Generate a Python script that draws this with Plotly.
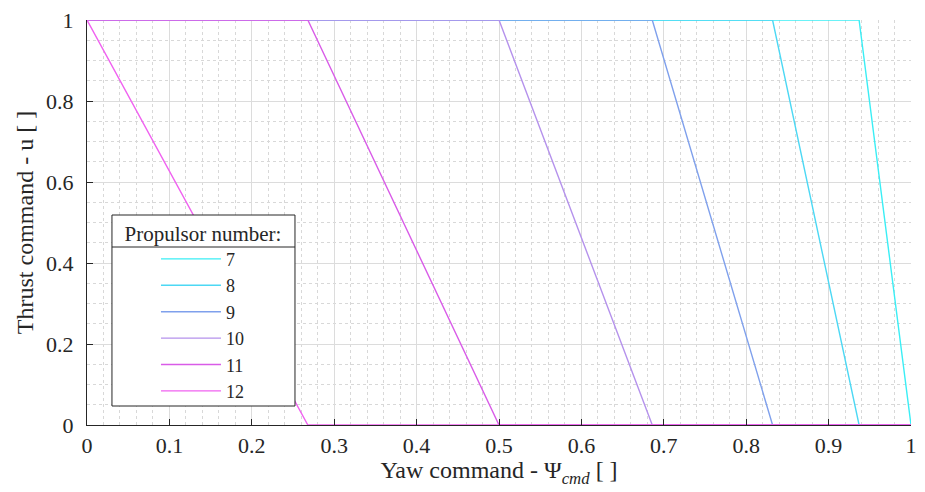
import plotly.graph_objects as go

# Data
propulsors = [7, 8, 9, 10, 11, 12]
drop_start = [0.937, 0.832, 0.686, 0.5, 0.268, 0.0]   # yaw command where thrust starts dropping
drop_end = [1.0, 0.937, 0.832, 0.686, 0.5, 0.268]     # yaw command where thrust reaches 0
u_high = 1.0
u_low = 0.0
x_ticks = [0, 0.1, 0.2, 0.3, 0.4, 0.5, 0.6, 0.7, 0.8, 0.9, 1]
y_ticks = [0, 0.2, 0.4, 0.6, 0.8, 1]
colors = ["#3aeef5", "#4cd8f4", "#7fa0ec", "#b592ec", "#d95ce8", "#f062f0"]

FONT = "Liberation Serif"
INK = "#262626"

fig = go.Figure()
for n, a, b, c in zip(propulsors, drop_start, drop_end, colors):
    fig.add_trace(go.Scatter(
        x=[0, a, b, 1], y=[u_high, u_high, u_low, u_low],
        mode="lines", name=str(n),
        line=dict(color=c, width=1.4),
        cliponaxis=False,
    ))

grid_major = "#dcdcdc"
grid_minor = "#d8d8d8"
axis_common = dict(
    showline=True, linecolor=INK, linewidth=1.2,
    ticks="inside", ticklen=6, tickwidth=1, tickcolor=INK,
    showgrid=True, gridcolor=grid_major, gridwidth=1,
    zeroline=False, mirror=False, automargin=False,
    ticklabeloverflow="allow",
    tickfont=dict(family=FONT, size=22, color=INK),
)

fig.update_xaxes(
    range=[0, 1], tickvals=x_ticks, ticktext=[f"{v:g}" for v in x_ticks],
    minor=dict(dtick=0.02, tick0=0, showgrid=True, gridcolor=grid_minor, griddash="dot", gridwidth=1),
    title=dict(text="Yaw command - Ψ<sub><i>cmd</i></sub> [ ]", font=dict(family=FONT, size=24, color=INK), standoff=2),
    ticklabelstandoff=0,
    **axis_common,
)
fig.update_yaxes(
    range=[0, 1], tickvals=y_ticks, ticktext=[f"{v:g}" for v in y_ticks],
    minor=dict(dtick=0.05, tick0=0, showgrid=True, gridcolor=grid_minor, griddash="dot", gridwidth=1),
    title=dict(text="Thrust command - u [ ]", font=dict(family=FONT, size=24, color=INK), standoff=5),
    ticklabelstandoff=8,
    **axis_common,
)

# legend box geometry (paper coords)
LX0, LX1 = 0.0303, 0.2524
LY0, LY1 = 0.0469, 0.5185
SEP_Y = 0.4395

fig.update_layout(
    width=925, height=492,
    margin=dict(l=87, r=14, t=20, b=67, autoexpand=False),
    paper_bgcolor="white", plot_bgcolor="white",
    font=dict(family=FONT, color=INK),
    showlegend=True,
    legend=dict(
        x=LX0, y=LY1 + 0.004, xanchor="left", yanchor="top",
        bgcolor="rgba(0,0,0,0)", borderwidth=0,
        title=dict(text="&nbsp;&nbsp;Propulsor number:&nbsp;&nbsp;", side="top center",
                   font=dict(family=FONT, size=21, color=INK)),
        font=dict(family=FONT, size=18, color=INK),
        itemwidth=60, indentation=44,
        tracegroupgap=0,
    ),
    shapes=[
        dict(type="rect", xref="paper", yref="paper", x0=LX0, x1=LX1, y0=LY0, y1=LY1,
             fillcolor="white", line=dict(color=INK, width=1), layer="above"),
        dict(type="line", xref="paper", yref="paper", x0=LX0, x1=LX1, y0=SEP_Y, y1=SEP_Y,
             line=dict(color=INK, width=1), layer="above"),
    ],
)

fig.write_html("out.html", config={"displayModeBar": False},
               post_script="document.body.style.margin='0px';")
